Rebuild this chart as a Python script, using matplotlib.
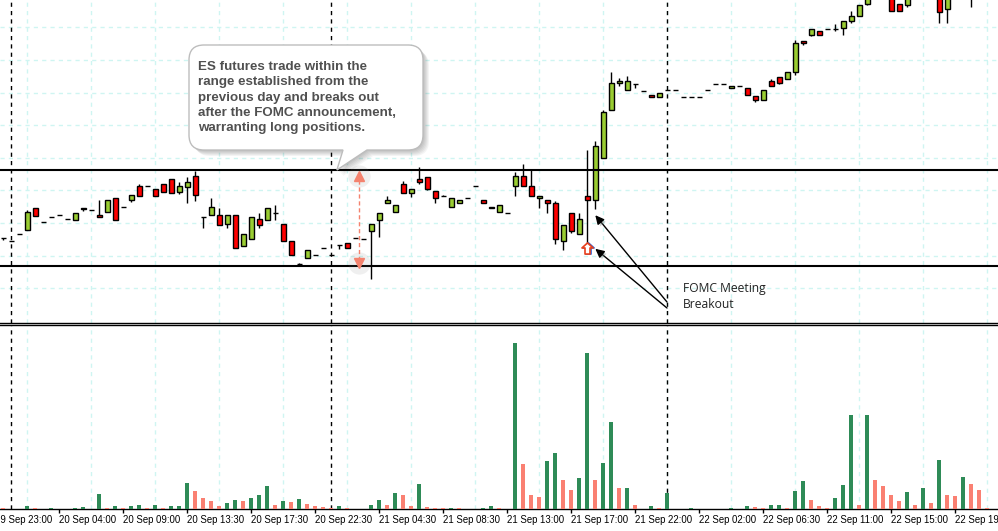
import numpy as np
import matplotlib
matplotlib.use("Agg")
import matplotlib.pyplot as plt
from matplotlib.path import Path
from matplotlib.patches import PathPatch
import matplotlib.patheffects as pe
from matplotlib.transforms import blended_transform_factory

# ---------------- data (price in chart units, volume in contracts/100) ----------------
open_ = [81.7, 79.0, 85.7, 90.3, 111.7, 97.7, 102.7, 104.7, 100.7, 100.3,
         112.3, 109.7, 104.7, 107.7, 121.7, 112.7, 119.7, 133.7, 134.0, 130.7,
         135.7, 140.7, 128.3, 133.3, 143.7, 102.7, 104.7, 104.7, 95.7, 104.7,
         73.7, 81.3, 100.7, 99.7, 107.3, 95.7, 78.7, 56.3, 61.7, 64.7,
         71.7, 64.7, 75.3, 76.7, 81.7, 80.7, 88.7, 100.3, 116.7, 107.7,
         135.7, 126.7, 140.7, 142.7, 128.7, 123.7, 112.7, 116.7, 121.7, 133.7,
         119.7, 112.7, 107.7, 107.0, 133.7, 143.7, 133.7, 121.7, 119.7, 116.7,
         78.7, 106.7, 85.7, 124.0, 119.7, 161.7, 209.7, 236.7, 229.7, 236.3,
         228.7, 224.7, 222.7, 229.7, 229.7, 222.7, 222.7, 222.7, 229.7, 236.3,
         236.3, 231.7, 233.7, 231.7, 224.3, 219.7, 238.7, 243.3, 240.7, 247.7,
         278.7, 284.7, 288.7, 290.7, 290.7, 291.7, 298.7, 303.7, 315.7, 323.0,
         327.0, 325.0, 315.7, 314.7, 324.0, 328.0, 334.0, 332.0, 310.7, 326.0,
         332.0, 335.0, 330.0, 326.0, 329.0]
close = [81.7, 79.0, 85.7, 107.7, 104.3, 97.7, 102.7, 104.7, 100.7, 106.7,
         111.0, 109.7, 102.7, 119.7, 99.7, 112.7, 125.0, 123.7, 134.0, 123.7,
         128.3, 126.7, 133.7, 137.7, 124.7, 102.7, 112.7, 94.7, 104.7, 71.7,
         85.7, 102.7, 94.7, 111.7, 107.3, 78.7, 64.7, 56.3, 69.7, 64.7,
         71.7, 64.7, 75.3, 71.7, 81.7, 80.7, 95.7, 107.0, 119.7, 114.7,
         126.7, 130.7, 137.7, 131.3, 121.7, 123.7, 121.7, 119.7, 121.7, 133.7,
         116.7, 111.7, 114.7, 107.0, 143.7, 133.7, 123.7, 123.7, 116.7, 80.7,
         94.7, 89.0, 100.7, 119.7, 173.7, 207.7, 236.7, 238.7, 238.7, 236.3,
         228.7, 222.7, 226.7, 229.7, 229.7, 222.7, 222.7, 222.7, 229.7, 236.3,
         236.3, 233.7, 233.7, 224.7, 220.0, 229.7, 233.7, 236.7, 247.7, 276.7,
         276.7, 290.7, 284.7, 290.7, 290.7, 298.7, 303.7, 314.7, 322.0, 327.0,
         333.0, 308.7, 308.7, 322.0, 328.0, 334.0, 330.0, 307.7, 326.0, 332.0,
         336.0, 330.0, 326.0, 329.0, 331.0]
high = [82.0, 79.0, 85.7, 110.0, 111.7, 97.7, 102.7, 104.7, 100.7, 106.7,
        112.3, 109.7, 120.0, 119.7, 121.7, 112.7, 125.0, 136.0, 134.0, 130.7,
        135.7, 140.7, 138.0, 143.3, 149.3, 102.7, 121.7, 111.7, 104.7, 104.7,
        85.7, 102.7, 106.7, 111.7, 114.7, 95.7, 78.7, 57.3, 69.7, 64.7,
        71.7, 64.7, 75.3, 76.7, 81.7, 80.7, 95.7, 107.0, 124.0, 114.7,
        138.7, 130.7, 153.3, 142.7, 128.7, 124.7, 121.7, 119.7, 121.7, 133.7,
        119.7, 112.7, 114.7, 107.0, 147.7, 155.7, 149.7, 123.7, 119.7, 118.7,
        94.7, 106.7, 106.7, 170.0, 179.0, 209.7, 247.7, 241.7, 244.0, 236.3,
        228.7, 224.7, 226.7, 229.7, 229.7, 222.7, 222.7, 222.7, 229.7, 236.3,
        236.3, 233.7, 233.7, 231.7, 224.3, 229.7, 240.7, 243.3, 247.7, 279.7,
        278.7, 290.7, 288.7, 290.7, 295.7, 298.7, 309.0, 314.7, 324.0, 330.0,
        335.0, 330.0, 315.7, 324.0, 330.0, 336.0, 337.0, 334.0, 328.0, 334.0,
        338.0, 338.0, 333.0, 331.0, 333.0]
low = [80.0, 79.0, 85.7, 90.3, 104.3, 97.7, 102.7, 104.7, 100.7, 100.3,
       109.3, 109.7, 102.7, 107.7, 99.7, 112.7, 118.3, 123.7, 134.0, 123.7,
       128.3, 126.7, 126.3, 116.7, 119.3, 92.3, 104.7, 94.7, 92.3, 71.7,
       73.7, 80.7, 92.3, 99.7, 100.0, 78.7, 64.7, 56.3, 61.7, 64.7,
       71.7, 64.7, 71.3, 71.7, 81.7, 80.7, 40.7, 83.3, 116.7, 107.7,
       126.7, 123.3, 135.7, 130.3, 116.7, 123.7, 112.7, 116.7, 121.7, 133.7,
       116.7, 111.7, 107.7, 107.0, 124.3, 133.7, 123.7, 111.7, 106.7, 75.7,
       69.7, 86.7, 85.7, 76.7, 111.3, 161.7, 209.7, 233.7, 229.7, 231.7,
       228.7, 222.7, 222.7, 229.7, 229.7, 222.7, 222.7, 222.7, 229.7, 236.3,
       236.3, 231.7, 233.7, 224.7, 217.7, 219.7, 233.7, 235.7, 240.7, 245.3,
       274.7, 283.7, 284.7, 290.7, 288.7, 284.7, 296.7, 303.7, 314.7, 321.0,
       322.0, 308.7, 308.7, 312.7, 321.0, 326.0, 327.0, 296.7, 296.7, 323.0,
       328.0, 312.7, 321.0, 322.0, 325.0]
volume = [1, 0, 0, 3, 1, 0, 1, 0, 0, 1,
          2, 0, 15, 1, 3, 1, 3, 4, 1, 4,
          1, 3, 3, 26, 18, 11, 8, 3, 6, 9,
          8, 11, 14, 23, 4, 8, 7, 10, 5, 3,
          2, 1, 3, 1, 0, 0, 4, 9, 4, 16,
          14, 3, 25, 2, 1, 1, 1, 1, 0, 0,
          1, 3, 1, 0, 166, 45, 14, 12, 48, 56,
          29, 19, 31, 156, 29, 46, 87, 21, 21, 4,
          0, 3, 1, 16, 0, 0, 1, 0, 0, 0,
          0, 1, 0, 3, 2, 1, 4, 4, 1, 18,
          28, 9, 3, 1, 11, 24, 94, 4, 94, 29,
          23, 14, 8, 17, 4, 21, 6, 49, 14, 13,
          32, 25, 19, 1, 0]
volume_up = [0, 0, 0, 1, 0, 0, 1, 0, 0, 1,
             1, 0, 1, 0, 1, 0, 1, 1, 0, 1,
             0, 1, 1, 1, 0, 0, 0, 0, 1, 1,
             0, 1, 1, 1, 0, 1, 0, 1, 0, 0,
             0, 0, 1, 0, 0, 0, 1, 1, 0, 1,
             0, 0, 1, 0, 0, 0, 1, 0, 0, 0,
             1, 1, 0, 0, 1, 0, 0, 0, 1, 1,
             0, 0, 1, 1, 0, 1, 1, 0, 1, 0,
             0, 1, 0, 1, 0, 0, 1, 0, 0, 0,
             0, 1, 0, 1, 0, 0, 1, 1, 0, 1,
             1, 0, 0, 0, 1, 1, 1, 0, 1, 0,
             0, 0, 0, 1, 0, 1, 0, 1, 0, 0,
             1, 0, 0, 0, 0]
tick_bars = [-1, 7, 15, 23, 31, 39, 47, 55, 63, 71, 79, 87, 95, 103, 111, 119]
tick_labels = ["19 Sep 23:00", "20 Sep 04:00", "20 Sep 09:00", "20 Sep 13:30",
               "20 Sep 17:30", "20 Sep 22:30", "21 Sep 04:30", "21 Sep 08:30",
               "21 Sep 13:00", "21 Sep 17:00", "21 Sep 22:00", "22 Sep 02:00",
               "22 Sep 06:30", "22 Sep 11:00", "22 Sep 15:00", "22 Sep 19:30"]
day_starts = [1, 41, 83]
range_high = 150.0
range_low = 54.0
fomc_bar = 73
breakout_bar = 74

callout_lines = ["ES futures trade within the",
                 "range established from the",
                 "previous day and breaks out",
                 "after the FOMC announcement,",
                 "warranting long positions."]

# ---------------- styling ----------------
W, H = 998, 531
UP, DOWN = "#9ACD32", "#FF0000"
VUP, VDOWN = "#2E8B57", "#FA8072"
GRID = "#CFF5F2"

fig = plt.figure(figsize=(W / 100, H / 100), dpi=100)
ax = fig.add_axes([0, 1 - 323 / H, 1, 323 / H])
axv = fig.add_axes([0, 1 - 509 / H, 1, (509 - 325) / H], sharex=ax)

o = np.array(open_); c = np.array(close)
hi = np.array(high); lo = np.array(low)
x = np.arange(len(o))

xmin, xmax = -3.3 / 8, (W - 3.3) / 8
ax.set_xlim(xmin, xmax)
ax.set_ylim(-3, 320)
axv.set_ylim(0, 184)

# grids
grid_x = np.arange(3, len(o), 4)
for a in (ax, axv):
    a.set_xticks(grid_x, minor=True)
    a.grid(True, which="minor", axis="x", color=GRID, ls=(0, (3, 3)), lw=1, zorder=0)
ax.set_yticks(292.7 - 32.6 * np.arange(9))
ax.grid(True, which="major", axis="y", color=GRID, ls=(0, (3, 3)), lw=1, zorder=0)
ax.tick_params(axis="both", which="both", length=0, labelbottom=False, labelleft=False)
for s in ("top", "left", "right"):
    ax.spines[s].set_visible(False)
ax.spines["bottom"].set_linewidth(1)

# candles
colors = np.where(c > o, UP, np.where(c < o, DOWN, "black"))
ax.vlines(x, lo, hi, color="black", lw=1, zorder=3)
ax.bar(x, np.abs(c - o), bottom=np.minimum(o, c), width=0.56, color=colors,
       edgecolor="black", linewidth=1, zorder=4)

# range lines, day separators
for lvl in (range_high, range_low):
    ax.axhline(lvl, color="black", lw=1.5, zorder=5)
for d in day_starts:
    for a in (ax, axv):
        a.axvline(d, color="black", lw=1, ls=(0, (3, 3)), zorder=2)

# volume
vcol = [VUP if u else VDOWN for u in volume_up]
axv.bar(x, volume, width=0.5, color=vcol, zorder=3)
for s in ("left", "right"):
    axv.spines[s].set_visible(False)
axv.spines["top"].set_linewidth(1)
axv.spines["bottom"].set_linewidth(1)
axv.set_yticks([])
TICK_LEN, TICK_PAD, LSIZE = 3, 1.2, 6.9
axv.set_xticks(tick_bars, tick_labels)
axv.tick_params(axis="x", which="major", length=TICK_LEN, width=1, pad=TICK_PAD,
                labelsize=LSIZE, colors="black")
axv.tick_params(axis="x", which="minor", length=0)
for t in axv.get_xticklabels():
    t.set_ha("left")
    t.set_family("Liberation Sans")
axv.set_xlim(xmin, xmax)
# labels whose tick lies left of the visible range are still shown (clipped by the figure edge)
blend = blended_transform_factory(axv.transData, axv.transAxes)
for tb, tl in zip(tick_bars, tick_labels):
    if tb < xmin:
        axv.annotate(tl, xy=(tb, 0), xycoords=blend, xytext=(0, -(TICK_LEN + TICK_PAD)),
                     textcoords="offset points", ha="left", va="top", fontsize=LSIZE,
                     family="Liberation Sans", color="black", annotation_clip=False)

# range double arrow (salmon dashed)
ax_x = 44.5
ax.plot([ax_x, ax_x], [range_high - 10, range_low + 8], color="#F4826E", lw=1, ls=(0, (3, 2)), zorder=6)
for yy, m in ((range_high - 5.5, "^"), (range_low + 3.5, "v")):
    ax.plot(ax_x, yy, "o", ms=16, color="gray", alpha=0.12, mec="none", zorder=5)
    ax.plot(ax_x, yy, m, ms=7, color="#F4826E", mec="#F4826E", zorder=7)

# FOMC up-arrow marker
arrow_verts = [(0, 1), (-1, 0.1), (-0.45, 0.1), (-0.45, -1), (0.45, -1), (0.45, 0.1), (1, 0.1), (0, 1)]
arrow_marker = Path(arrow_verts, [Path.MOVETO] + [Path.LINETO] * 6 + [Path.CLOSEPOLY])
ax.plot(fomc_bar + 0.12, lo[fomc_bar] - 5, marker=arrow_marker, ms=8, mfc="white", mec="#3060D0", mew=1.2, zorder=7)
ax.plot(fomc_bar, lo[fomc_bar] - 5, marker=arrow_marker, ms=8, mfc="white", mec="#E8401C", mew=1.2, zorder=8)

# black arrows toward breakout
shadow = [pe.withSimplePatchShadow(offset=(1.5, -1.5), shadow_rgbFace="gray", alpha=0.35)]
tail = ((667 - 3.3) / 8, 320 - 302)
tail2 = ((667 - 3.3) / 8, 320 - 308)
ax.annotate("", xy=(breakout_bar, lo[breakout_bar] - 6.5), xytext=tail,
            arrowprops=dict(arrowstyle="-|>", color="black", lw=1, mutation_scale=13,
                            shrinkA=0, shrinkB=0, path_effects=shadow), zorder=9)
ax.annotate("", xy=(breakout_bar, lo[fomc_bar] - 5.5), xytext=tail2,
            arrowprops=dict(arrowstyle="-|>", color="black", lw=1, mutation_scale=13,
                            shrinkA=0, shrinkB=0, path_effects=shadow), zorder=9)

# overlay in pixel coordinates for the callout box
ov = fig.add_axes([0, 0, 1, 1], facecolor="none")
ov.set_xlim(0, W); ov.set_ylim(H, 0); ov.axis("off")

def callout(l, t, r, b, rad, p1, tip, p2):
    verts = [(l + rad, t), (r - rad, t), (r, t), (r, t + rad), (r, b - rad), (r, b), (r - rad, b),
             (p2, b), tip, (p1, b), (l + rad, b), (l, b), (l, b - rad), (l, t + rad), (l, t),
             (l + rad, t), (l + rad, t)]
    codes = [Path.MOVETO, Path.LINETO, Path.CURVE3, Path.CURVE3, Path.LINETO, Path.CURVE3, Path.CURVE3,
             Path.LINETO, Path.LINETO, Path.LINETO, Path.LINETO, Path.CURVE3, Path.CURVE3, Path.LINETO,
             Path.CURVE3, Path.CURVE3, Path.CLOSEPOLY]
    return Path(verts, codes)

tip_disp = ax.transData.transform((41.7, range_high))
tip = ov.transData.inverted().transform(tip_disp)
for i in range(1, 7):
    sp = callout(189 + i, 45 + i, 423 + i, 150 + i, 15, 343 + i, (tip[0] + i, tip[1] + i), 367 + i)
    ov.add_patch(PathPatch(sp, fc="black", ec="none", alpha=0.045, zorder=1))
ov.add_patch(PathPatch(callout(189, 45, 423, 150, 15, 343, tuple(tip), 367),
                       fc="white", ec="#BDBDBD", lw=1, zorder=2))
for i, line in enumerate(callout_lines):
    ov.text(198, 69.7 + 15.4 * i, line, fontsize=9.6, fontweight="bold", color="#505050",
            family="Liberation Sans", ha="left", va="baseline", zorder=3)

ov.text(683, 292.3, "FOMC Meeting", fontsize=8.7, family="Open Sans", color="#222222",
        ha="left", va="baseline")
ov.text(683, 308.3, "Breakout", fontsize=8.7, family="Open Sans", color="#222222",
        ha="left", va="baseline")

fig.savefig("out.png", dpi=100)
